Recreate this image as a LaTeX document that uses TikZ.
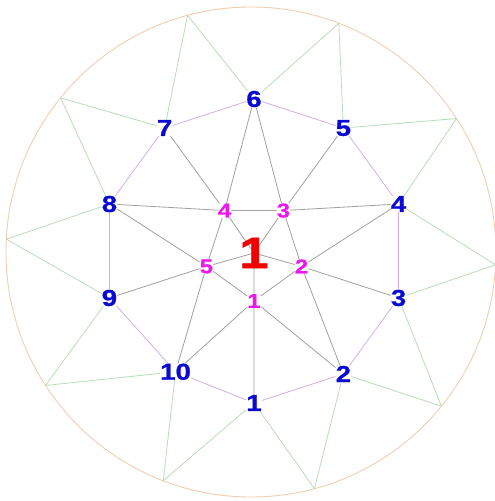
\documentclass[tikz,border=0pt]{standalone}
\usepackage{fontspec}
\setmainfont{Liberation Sans}
\newfontfamily\widefont{Liberation Sans Bold}[FakeStretch=1.2, FakeBold=1]
\usepackage{tikz}
\definecolor{numblue}{RGB}{10,10,210}
\definecolor{nummagenta}{RGB}{235,25,235}
\definecolor{hubred}{RGB}{240,0,0}
\definecolor{spokegray}{RGB}{160,160,160}
\definecolor{rimviolet}{RGB}{210,175,230}
\definecolor{fangreen}{RGB}{185,220,185}
\definecolor{ringpeach}{RGB}{242,205,175}
\tikzset{
  outernum/.style={
    text=numblue, font=\widefont\fontsize{23}{23}\selectfont, inner sep=0pt
  },
  innernum/.style={
    text=nummagenta, font=\widefont\fontsize{20}{20}\selectfont, inner sep=0pt
  },
  hubnum/.style={
    text=hubred, font=\widefont\fontsize{44}{44}\selectfont, inner sep=0pt
  },
  spokeline/.style={draw=spokegray, line width=0.8pt},
  rimline/.style={draw=rimviolet, line width=0.8pt},
  fanline/.style={draw=fangreen, line width=0.8pt},
  ringline/.style={draw=ringpeach, line width=0.9pt},
}

\begin{document}
\begin{tikzpicture}[x=1pt, y=1pt]
  \useasboundingbox (-251,-249) rectangle (244,252);

  % === Outer ring and its anchor points ===
  \draw[ringline] (0,0) circle (245pt);
  \coordinate (c1) at (-75:245);
  \coordinate (c2) at (-39:245);
  \coordinate (c3) at (-3:245);
  \coordinate (c4) at (33:245);
  \coordinate (c5) at (69:245);
  \coordinate (c6) at (105:245);
  \coordinate (c7) at (141:245);
  \coordinate (c8) at (177:245);
  \coordinate (c9) at (213:245);
  \coordinate (c10) at (249:245);

  \begin{scope}[shift={(3,1)}]
    % === Outer decagon ===
    \node[outernum] (o1) at (-90:152) {1};
    \node[outernum] (o2) at (-54:152) {2};
    \node[outernum] (o3) at (-18:152) {3};
    \node[outernum] (o4) at (18:152) {4};
    \node[outernum] (o5) at (54:152) {5};
    \node[outernum] (o6) at (90:152) {6};
    \node[outernum] (o7) at (126:152) {7};
    \node[outernum] (o8) at (162:152) {8};
    \node[outernum] (o9) at (198:152) {9};
    \node[outernum] (o10) at (237:144) {10};

    % === Inner pentagon ===
    \node[innernum] (i1) at (-90:50) {1};
    \node[innernum] (i2) at (-18:50) {2};
    \node[innernum] (i3) at (54:50) {3};
    \node[innernum] (i4) at (126:50) {4};
    \node[innernum] (i5) at (198:50) {5};

    \coordinate (hubpt) at (0,-2);
  \end{scope}

  % === Green fans out to the ring ===
  \draw[fanline] (o1) -- (c1) -- (o2) -- (c2) -- (o3) -- (c3) -- (o4) -- (c4)
    -- (o5) -- (c5) -- (o6) -- (c6) -- (o7) -- (c7) -- (o8) -- (c8)
    -- (o9) -- (c9) -- (o10) -- (c10) -- (o1);

  % === Decagon edges ===
  \draw[rimline] (o1) -- (o2) -- (o3) -- (o4) -- (o5) -- (o6) -- (o7)
    -- (o8) -- (o9) -- (o10) -- (o1);

  % === Star edges ===
  \draw[spokeline] (i1) -- (i2) -- (i3) -- (i4) -- (i5) -- (i1);
  \draw[spokeline] (i1) -- (o1) (i1) -- (o10) (i1) -- (o2);
  \draw[spokeline] (i2) -- (o3) (i2) -- (o2) (i2) -- (o4);
  \draw[spokeline] (i3) -- (o5) (i3) -- (o4) (i3) -- (o6);
  \draw[spokeline] (i4) -- (o7) (i4) -- (o6) (i4) -- (o8);
  \draw[spokeline] (i5) -- (o9) (i5) -- (o8) (i5) -- (o10);

  % === Hub ===
  \draw[spokeline] (hubpt) -- (i1) (hubpt) -- (i2) (hubpt) -- (i3)
    (hubpt) -- (i4) (hubpt) -- (i5);
  \node[hubnum] (hub) at (hubpt) {1};

\end{tikzpicture}
\end{document}
